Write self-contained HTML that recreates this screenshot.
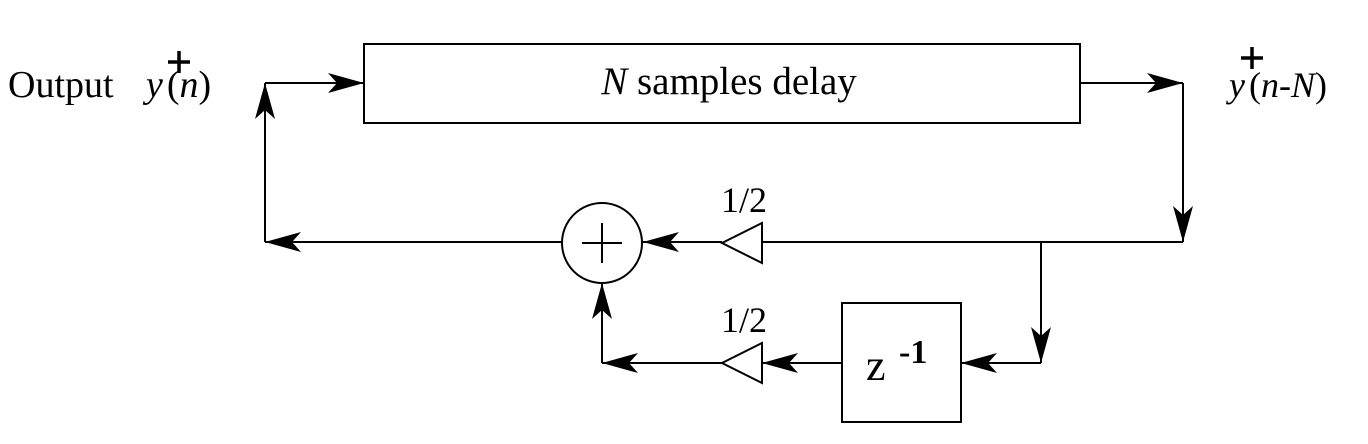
<!DOCTYPE html>
<html><head><meta charset="utf-8"><style>
html,body{margin:0;padding:0;background:#fff;}
svg{display:block;}
text{font-family:"Liberation Serif",serif;fill:#000;}
</style></head><body>
<svg width="1368" height="444" viewBox="0 0 1368 444" xmlns="http://www.w3.org/2000/svg">
<defs>
<marker id="a" markerWidth="40" markerHeight="26" refX="36" refY="13" orient="auto" markerUnits="userSpaceOnUse">
<path d="M0,3 L36,13 L0,23 L9,13 Z" fill="#000"/>
</marker>
</defs>
<g stroke="#000" stroke-width="2" fill="none">
<rect x="364" y="44" width="716" height="79"/>
<rect x="842" y="303" width="119" height="119"/>
<circle cx="602" cy="243" r="40"/>
<line x1="582" y1="243" x2="622" y2="243"/>
<line x1="602" y1="223" x2="602" y2="263"/>
<polygon points="722,243 762,223 762,263"/>
<polygon points="722,363 762,343 762,383"/>
<line x1="265" y1="83" x2="364" y2="83" marker-end="url(#a)"/>
<line x1="265" y1="242" x2="265" y2="83" marker-end="url(#a)"/>
<line x1="562" y1="242" x2="265" y2="242" marker-end="url(#a)"/>
<line x1="1080" y1="83" x2="1183" y2="83" marker-end="url(#a)"/>
<line x1="1183" y1="83" x2="1183" y2="242" marker-end="url(#a)"/>
<line x1="1183" y1="242" x2="762" y2="242"/>
<line x1="722" y1="242" x2="643" y2="242" marker-end="url(#a)"/>
<line x1="1041" y1="242" x2="1041" y2="363" marker-end="url(#a)"/>
<line x1="1041" y1="363" x2="961" y2="363" marker-end="url(#a)"/>
<line x1="842" y1="363" x2="762" y2="363" marker-end="url(#a)"/>
<line x1="722" y1="363" x2="602" y2="363" marker-end="url(#a)"/>
<line x1="602" y1="363" x2="602" y2="283" marker-end="url(#a)"/>
</g>
<g stroke="#000" stroke-width="3.5">
<line x1="168" y1="62" x2="190" y2="62"/><line x1="179" y1="51" x2="179" y2="73"/>
<line x1="1241" y1="58" x2="1263" y2="58"/><line x1="1252" y1="47" x2="1252" y2="69"/>
</g>
<text x="8" y="97" font-size="38">Output</text>
<text x="146" y="97" font-size="38"><tspan font-style="italic">y</tspan><tspan dx="4">(</tspan><tspan font-style="italic">n</tspan>)</text>
<text x="1229" y="97" font-size="36"><tspan font-style="italic">y</tspan><tspan dx="4">(</tspan><tspan font-style="italic">n</tspan>-<tspan font-style="italic">N</tspan>)</text>
<text x="729" y="94" font-size="39" text-anchor="middle"><tspan font-style="italic">N</tspan> samples delay</text>
<text x="721" y="212" font-size="36">1/2</text>
<text x="721" y="332" font-size="36">1/2</text>
<text x="866" y="380" font-size="44" font-family="Liberation Serif">z</text>
<text x="899" y="363" font-size="34" font-family="Liberation Serif" font-weight="bold">-1</text>
</svg>
</body></html>
